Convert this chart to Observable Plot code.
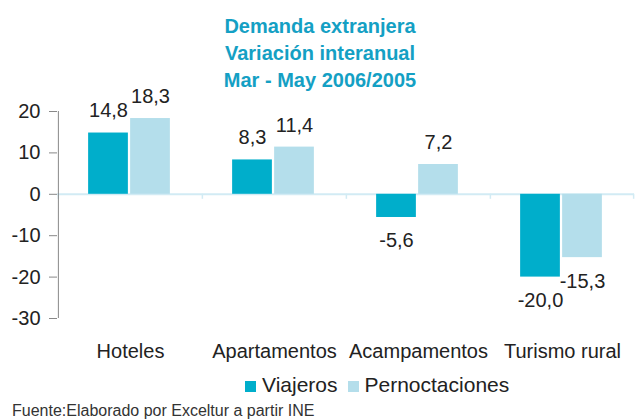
<!DOCTYPE html>
<html>
<head>
<meta charset="utf-8">
<script src="https://cdn.jsdelivr.net/npm/d3@7"></script>
<script src="https://cdn.jsdelivr.net/npm/@observablehq/plot@0.6"></script>
<style>
  html, body { margin: 0; padding: 0; background: #fff; }
  #wrap { position: relative; width: 635px; height: 419px; overflow: hidden;
          font-family: "Liberation Sans", Arial, Helvetica, sans-serif; color: #222; }
  #title { position: absolute; left: 0; top: 12.5px; width: 640px; text-align: center;
           font-weight: bold; font-size: 20px; line-height: 27px; color: #14a0c4; }
  #chart { position: absolute; left: 0; top: 95px; }
  #legend { position: absolute; left: 245px; top: 372.7px; font-size: 21px; line-height: 24px;
            white-space: nowrap; }
  #legend .item { display: inline-block; margin-right: 10px; }
  #legend .sw { display: inline-block; width: 11px; height: 11px; margin-right: 6px; }
  #caption { position: absolute; left: 12px; top: 401.5px; font-size: 16px; line-height: 18px;
             color: #333; white-space: nowrap; }
</style>
</head>
<body>
<div id="wrap">
  <div id="title"></div>
  <div id="chart"></div>
  <div id="legend"></div>
  <div id="caption"></div>
</div>
<script>
// ---- data ----
const titleLines = ["Demanda extranjera", "Variación interanual", "Mar - May 2006/2005"];
const categories = ["Hoteles", "Apartamentos", "Acampamentos", "Turismo rural"];
const seriesNames = ["Viajeros", "Pernoctaciones"];
const viajeros = [14.8, 8.3, -5.6, -20.0];
const pernoctaciones = [18.3, 11.4, 7.2, -15.3];
const yTicks = [-30, -20, -10, 0, 10, 20];
const sourceText = "Fuente:Elaborado por Exceltur a partir INE";

// ---- styles ----
const colors = ["#00aecb", "#b4deeb"];
const zeroColor = "#d2ebf4";
const axisColor = "#888";

const W = 635, H = 275, ML = 57, MR = 1, MT = 16, MB = 52;
const bw = (W - ML - MR) / categories.length;
const fmt = v => v.toFixed(1).replace(".", ",");

const rowsV = categories.map((c, i) => ({cat: c, v: viajeros[i]}));
const rowsP = categories.map((c, i) => ({cat: c, v: pernoctaciones[i]}));

const plot = Plot.plot({
  width: W, height: H,
  marginLeft: ML, marginRight: MR, marginTop: MT, marginBottom: MB,
  style: {fontFamily: '"Liberation Sans", Arial, Helvetica, sans-serif', fontSize: "20px",
          color: "#222", background: "transparent", overflow: "visible"},
  x: {domain: categories, padding: 0, label: null},
  y: {domain: [yTicks[0], yTicks[yTicks.length - 1]], label: null},
  marks: [
    Plot.ruleY([0], {stroke: zeroColor, strokeWidth: 2}),
    Plot.barY(rowsV, {x: "cat", y: "v", fill: colors[0], insetLeft: bw / 2 - 42, insetRight: bw / 2 + 2}),
    Plot.barY(rowsP, {x: "cat", y: "v", fill: colors[1], insetLeft: bw / 2, insetRight: bw / 2 - 40}),
    Plot.ruleX(categories, {x: d => d, y1: 0, y2: 0, dx: -bw / 2, insetBottom: -5, stroke: zeroColor, strokeWidth: 1.5}),
    Plot.ruleX([categories[categories.length - 1]], {x: d => d, y1: 0, y2: 0, dx: bw / 2 - 1, insetBottom: -5, stroke: zeroColor, strokeWidth: 1.5}),
    Plot.ruleX([categories[0]], {x: d => d, y1: yTicks[0], y2: yTicks[yTicks.length - 1], dx: -bw / 2, stroke: axisColor}),
    Plot.axisY({ticks: yTicks, tickSize: 8, tickPadding: 9, tickFormat: d => String(d),
                color: "#222", stroke: axisColor, label: null}),
    Plot.axisX({tickSize: 0, tickPadding: 25, color: "#222", label: null}),
    Plot.text(rowsV, {x: "cat", y: "v", text: d => fmt(d.v), dx: -22, dy: -22, filter: d => d.v >= 0, fill: "#222"}),
    Plot.text(rowsV, {x: "cat", y: "v", text: d => fmt(d.v), dx: -22, dy: 23.5, filter: d => d.v < 0, fill: "#222"}),
    Plot.text(rowsP, {x: "cat", y: "v", text: d => fmt(d.v), dx: 20, dy: -22, filter: d => d.v >= 0, fill: "#222"}),
    Plot.text(rowsP, {x: "cat", y: "v", text: d => fmt(d.v), dx: 20, dy: 23.5, filter: d => d.v < 0, fill: "#222"})
  ]
});
document.getElementById("chart").appendChild(plot);

// title
const t = document.getElementById("title");
titleLines.forEach(line => { const d = document.createElement("div"); d.textContent = line; t.appendChild(d); });

// legend
const lg = document.getElementById("legend");
seriesNames.forEach((name, i) => {
  const it = document.createElement("span"); it.className = "item";
  const sw = document.createElement("span"); sw.className = "sw"; sw.style.background = colors[i];
  it.appendChild(sw); it.appendChild(document.createTextNode(name));
  lg.appendChild(it);
});

document.getElementById("caption").textContent = sourceText;
</script>
</body>
</html>
